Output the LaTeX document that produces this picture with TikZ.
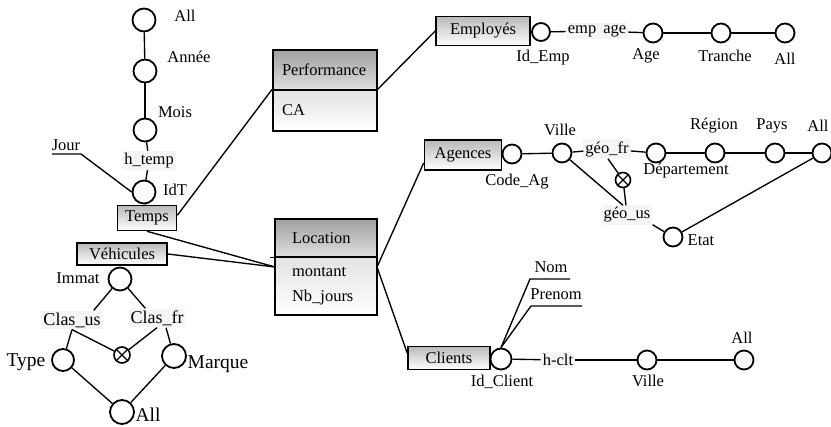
\documentclass[tikz,border=0pt]{standalone}
\usepackage{fontspec}
\setmainfont{Liberation Serif}
\usetikzlibrary{calc}
\begin{document}
\begin{tikzpicture}[x=1pt,y=-1pt,
 every node/.style={font=\fontsize{16.5}{19}\selectfont, inner sep=0pt},
 ln/.style={line width=1.35pt},
 lv/.style={circle, draw, line width=1.8pt, minimum size=23pt, inner sep=0pt, fill=white},
 lvs/.style={lv, minimum size=19pt},
 dimbox/.style={draw, line width=1.6pt, top color=gray!55, bottom color=white, inner sep=0pt},
 facttop/.style={draw, line width=1.6pt, top color=gray!75, bottom color=gray!25, inner sep=0pt, align=left},
 factbot/.style={draw, line width=1.6pt, top color=gray!22, bottom color=white, inner sep=0pt, align=left},
 hier/.style={fill=gray!8, inner sep=2pt},
 big/.style={font=\fontsize{19.5}{22}\selectfont},
 mid/.style={font=\fontsize{18}{21}\selectfont},
 otim/.style={circle, draw, line width=1.6pt, minimum size=15pt, inner sep=0pt, fill=white},
]
\useasboundingbox (0,0) rectangle (831,427);

% ---------- fact tables ----------
\node[facttop, minimum width=104pt, minimum height=40pt, text width=86pt] (perftop) at (325,70) {Performance};
\node[factbot, minimum width=104pt, minimum height=41pt, text width=86pt] (perfbot) at (325,110.5) {CA};
\node[facttop, minimum width=102pt, minimum height=38pt, text width=68pt] (loctop) at (326,238) {Location};
\node[factbot, minimum width=102pt, minimum height=58pt, text width=68pt, font=\fontsize{16.5}{25}\selectfont] (locbot) at (326,286) {montant\\Nb\_jours};
\draw[line width=1.4pt] (loctop.south west) -- ++(-4,0);
\coordinate (locL) at (275,267);
\coordinate (locR) at (377,267);

% ---------- dimensions ----------
\node[dimbox, minimum width=59pt, minimum height=25pt] (temps) at (147,218) {Temps};
\node[dimbox, minimum width=90pt, minimum height=22pt] (veh) at (122,254) {Véhicules};
\node[dimbox, minimum width=94pt, minimum height=29pt] (emp) at (483,31) {Employés};
\node[dimbox, minimum width=77pt, minimum height=30pt] (ag) at (463,155) {Agences};
\node[dimbox, minimum width=82pt, minimum height=23pt] (cli) at (449,358) {Clients};

% ---------- fact-dimension links ----------
\draw[ln] ($(temps.north east)!0.4!(temps.south east)$) -- (perfbot.north west);
\draw[ln] (perfbot.north east) -- (emp.west);
\draw[ln] (temps.south) -- (locL);
\draw[ln] (veh.east) -- (locL);
\draw[ln] (locR) -- ($(ag.south west)!0.5!(ag.west)$);
\draw[ln] (locR) -- ($(cli.west)!0.4!(cli.north west)$);

% ---------- Temps hierarchy ----------
\node[lv] (tall) at (144,20) {};
\node[lv] (tannee) at (145,71) {};
\node[lv] (tmois) at (145,130) {};
\node[hier] (htemp) at (149,160.5) {h\_temp};
\node[lv] (tidt) at (144,192) {};
\node at (185,16) {All};
\node at (189,57) {Année};
\node at (175,112) {Mois};
\node at (175,190) {IdT};
\node (jour) at (66,145) {Jour};
\coordinate (jourL) at (52,154);
\coordinate (jourR) at (81,154);
\draw[ln] (tall) -- (tannee);
\draw[ln] (tannee) -- (tmois);
\draw[ln] (tmois) -- (htemp);
\draw[ln] (htemp) -- (tidt);
\draw[ln] (tidt) -- (temps);
\draw[ln] (jourL) -- (jourR) -- (tidt.west);

% ---------- Employes hierarchy ----------
\node[lvs, minimum size=18pt] (idemp) at (541,32) {};
\node[hier] (empage) at (597,31) {emp\hspace{7pt}age};
\node[lvs] (age) at (653,33) {};
\node[lvs] (tranche) at (721,33) {};
\node[lvs] (eall) at (785,33) {};
\node at (543,58) {Id\_Emp};
\node at (646,56) {Age};
\node at (725,56) {Tranche};
\node at (785,59) {All};
\draw[ln] (idemp) -- (empage);
\draw[ln] (empage) -- (age);
\draw[ln] (age) -- (tranche);
\draw[ln] (tranche) -- (eall);

% ---------- Agences hierarchy ----------
\node[lvs] (codeag) at (512,154) {};
\node[lvs] (ville) at (562,153) {};
\node[hier] (geofr) at (607,149) {géo\_fr};
\node[lvs] (dept) at (656,153) {};
\node[lvs] (region) at (715,153) {};
\node[lvs] (pays) at (775,153) {};
\node[lvs] (aall) at (822,153) {};
\node[otim] (ot1) at (623,180) {};
\draw[line width=1.3pt] (ot1.north east) -- (ot1.south west) (ot1.north west) -- (ot1.south east);
\node[hier] (geous) at (627,215) {géo\_us};
\node[lvs] (etat) at (673,237) {};
\node at (517,182) {Code\_Ag};
\node at (560,130) {Ville};
\node at (686,171) {Département};
\node at (714,126) {Région};
\node at (772,126) {Pays};
\node at (818,126) {All};
\node at (701,240) {Etat};
\draw[ln] (ag) -- (codeag);
\draw[ln] (codeag) -- (ville);
\draw[ln] (ville) -- (geofr);
\draw[ln] (geofr) -- (dept);
\draw[ln] (dept) -- (region);
\draw[ln] (region) -- (pays);
\draw[ln] (pays) -- (aall);
\draw[ln] (ville) -- ($(geous.north)+(-4,0)$);
\draw[ln] ($(geofr.south)+(1,0)$) -- (ot1);
\draw[ln] (ot1) -- ($(geous.north)+(-1,0)$);
\draw[ln] (geous.south east) -- (etat);
\draw[ln] (etat) -- (aall);

% ---------- Clients hierarchy ----------
\node[lvs, minimum size=21pt] (idcli) at (501,359) {};
\node at (502,382) {Id\_Client};
\node (nom) at (551,267) {Nom};
\node (prenom) at (556,294) {Prenom};
\coordinate (nomL) at (530,279);
\coordinate (nomR) at (570,279);
\coordinate (preL) at (531,306);
\coordinate (preR) at (582,306);
\node[hier] (hclt) at (558,360) {h-clt};
\node[lvs] (cville) at (647,360) {};
\node[lvs] (call) at (744,360) {};
\node at (648,381) {Ville};
\node at (742,338) {All};
\draw[ln] (cli) -- (idcli);
\draw[ln] (idcli.north) -- (nomL) -- (nomR);
\draw[ln] (idcli.north) -- (preL) -- (preR);
\draw[ln] (idcli) -- (hclt);
\draw[ln] (hclt) -- (cville);
\draw[ln] (cville) -- (call);

% ---------- Vehicules hierarchy ----------
\node[lv] (immat) at (120,279) {};
\node at (78,278) {Immat};
\node[hier, mid] (clasus) at (72,320) {Clas\_us};
\node[hier, mid] (clasfr) at (157,318) {Clas\_fr};
\node[lv, minimum size=22pt] (type) at (63,360) {};
\node[lv, minimum size=24pt] (marque) at (174,356) {};
\node[otim, minimum size=16pt] (ot2) at (122,355) {};
\draw[line width=1.3pt] (ot2.north east) -- (ot2.south west) (ot2.north west) -- (ot2.south east);
\node[lv, minimum size=24pt] (vall) at (122,412) {};
\node[big] at (26,362) {Type};
\node[big] at (218,364) {Marque};
\node[big] at (148,415) {All};
\draw[ln] (immat) -- ($(clasus.north east)+(-9,0)$);
\draw[ln] (immat) -- ($(clasfr.north west)+(17,0)$);
\draw[ln] (clasus.south) -- (type);
\draw[ln] (clasus.south) -- (ot2);
\draw[ln] (clasfr.south) -- (ot2);
\draw[ln] ($(clasfr.south)+(9,0)$) -- (marque);
\draw[ln] (type) -- (vall);
\draw[ln] (marque) -- (vall);
\end{tikzpicture}
\end{document}
